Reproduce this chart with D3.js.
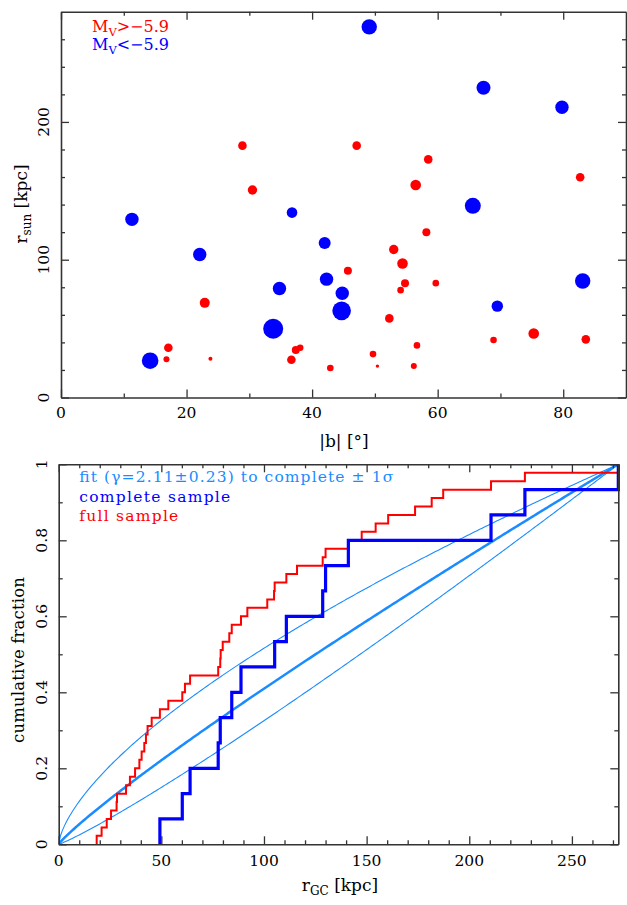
<!DOCTYPE html>
<html><head><meta charset="utf-8">
<script src="https://cdn.jsdelivr.net/npm/d3@7"></script>
<style>
body{margin:0;background:#fff}
svg{display:block}
text{font-family:"DejaVu Serif",serif;fill:#000}
</style>
</head><body>
<svg id="c" width="627" height="905"></svg>
<script>
// ---------------- DATA ----------------
// Top panel: |b| [deg], r_sun [kpc], marker size (relative)
const faintB    = [28.9,30.5,47.1,58.5,56.5,82.7,58.2,53.0,54.4,45.7,54.8,59.7,54.1,22.9,52.3,75.3,83.6,68.9,56.7,17.1,37.4,38.1,36.7,16.8,23.8,49.7,42.9,50.4,56.2];
const faintR    = [182.8,150.6,182.8,172.8,154.2,159.8,119.9,107.4,97.2,91.9,83.0,83.0,77.9,68.7,57.4,46.5,42.2,41.7,37.8,36.1,34.4,36.1,27.4,27.7,28.1,31.5,21.4,22.8,22.8];
const faintSize = [4.3,4.7,4.3,4.3,5.3,4.3,4.0,4.7,5.3,4.0,4.0,3.3,3.3,5.0,4.3,5.3,4.3,3.3,3.3,4.3,4.0,3.3,4.3,3.0,2.0,3.3,3.3,1.7,3.0];
const brightB    = [49.1,67.3,79.8,65.6,11.3,36.8,22.1,42.0,42.3,44.8,34.8,44.7,33.8,14.2,83.1,69.5];
const brightR    = [269.0,224.8,210.7,139.1,129.3,134.2,103.8,112.2,85.9,75.7,79.1,62.9,49.9,26.7,84.6,66.3];
const brightSize = [7.7,7.0,6.7,8.0,6.7,5.3,6.7,6.0,6.7,6.7,6.7,9.3,10.0,8.3,7.7,5.7];
const topXTicks = [0,20,40,60,80];
const topYTicks = [0,100,200];

// Bottom panel: sorted galactocentric distances r_GC [kpc]
const fullRgc = [18.5,20.9,23.4,25.5,28.2,28.4,32.8,34.7,37.2,39.3,40.4,41.7,42.5,43.3,45.3,49.3,53.4,60.2,61.5,64.0,77.7,78.7,78.9,79.9,83.1,84.3,88.8,91.9,101.6,104.9,105.2,110.9,116.1,128.6,130.0,141.1,147.6,154.4,160.5,173.6,181.7,187.3,210.6,227.1,272.6];
const completeRgc = [49.3,60.2,64.0,77.7,78.7,84.3,88.8,105.2,110.9,128.6,130.0,141.1,210.6,227.1,272.6];
const fitGamma = [2.11-0.23, 2.11, 2.11+0.23]; // fit and +-1 sigma
const botXTicks = [0,50,100,150,200,250];
const botYTicks = [0,0.2,0.4,0.6,0.8,1];
const botYLabels = ["0","0.2","0.4","0.6","0.8","1"];

// ---------------- DRAW ----------------
const svg = d3.select("#c");
const AX = "#333";

function frame(g, x, y, xMajor, xMinor, yMajor, yMinor, maj, min){
  const [x0,x1] = x.range(), [y0,y1] = y.range();
  const style = s => s.call(q=>q.selectAll("line").attr("stroke",AX).attr("stroke-width",1.3))
                      .call(q=>q.selectAll("path").attr("stroke",AX).attr("stroke-width",1.6))
                      .call(q=>q.selectAll("text").remove());
  const add = (axis, tr, vals, size, dom) => {
    const a = g.append("g").attr("transform",tr)
      .call(axis.tickValues(vals).tickSizeInner(-size).tickSizeOuter(0).tickFormat(""));
    style(a);
    if(!dom) a.select("path").remove();
  };
  add(d3.axisBottom(x), `translate(0,${y0})`, xMajor, maj, true);
  add(d3.axisBottom(x), `translate(0,${y0})`, xMinor, min, false);
  add(d3.axisTop(x), `translate(0,${y1})`, xMajor, maj, true);
  add(d3.axisTop(x), `translate(0,${y1})`, xMinor, min, false);
  add(d3.axisLeft(y), `translate(${x0},0)`, yMajor, maj, true);
  add(d3.axisLeft(y), `translate(${x0},0)`, yMinor, min, false);
  add(d3.axisRight(y), `translate(${x1},0)`, yMajor, maj, true);
  add(d3.axisRight(y), `translate(${x1},0)`, yMinor, min, false);
}

// ---- Top panel ----
const xT = d3.scaleLinear().domain([0,90]).range([61,626]);
const yT = d3.scaleLinear().domain([0,280]).range([397.5,11.7]);
const sz = d3.scaleLinear().domain([0,10]).range([0,10]);
const gT = svg.append("g");
frame(gT, xT, yT, topXTicks, d3.range(10,90,10).filter(v=>v%20), topYTicks, d3.range(20,280,20).filter(v=>v%100), 8, 4);

gT.append("g").selectAll("circle").data(d3.range(faintB.length)).join("circle")
  .attr("cx",i=>xT(faintB[i])).attr("cy",i=>yT(faintR[i])).attr("r",i=>sz(faintSize[i])).attr("fill","#ff0000");
gT.append("g").selectAll("circle").data(d3.range(brightB.length)).join("circle")
  .attr("cx",i=>xT(brightB[i])).attr("cy",i=>yT(brightR[i])).attr("r",i=>sz(brightSize[i])).attr("fill","#0000ff");

gT.selectAll(".xl").data(topXTicks).join("text").attr("class","xl")
  .attr("x",d=>xT(d)).attr("y",418).attr("text-anchor","middle").attr("font-size",15.5).text(d=>d);
gT.selectAll(".yl").data(topYTicks).join("text").attr("class","yl")
  .attr("transform",d=>`translate(49,${yT(d)}) rotate(-90)`).attr("text-anchor","middle").attr("font-size",15.5).text(d=>d);

// legend
function mv(g, x, y, sign, color){
  const t = g.append("text").attr("x",x).attr("y",y).attr("font-size",16).attr("fill",color).style("fill",color);
  t.append("tspan").text("M");
  t.append("tspan").attr("dy",4).attr("font-size",11.5).text("V");
  t.append("tspan").attr("dy",-4).text(sign+"\u22125.9");
}
mv(gT, 92, 32, ">", "#ff0000");
mv(gT, 92, 50, "<", "#0000ff");

// axis titles
gT.append("text").attr("x",344).attr("y",447).attr("text-anchor","middle").attr("font-size",17).text("|b|  [\u00b0]");
const ty = gT.append("text").attr("transform","translate(27,204) rotate(-90)").attr("text-anchor","middle").attr("font-size",17);
ty.append("tspan").text("r");
ty.append("tspan").attr("dy",4).attr("font-size",12).text("sun");
ty.append("tspan").attr("dy",-4).text(" [kpc]");

// ---- Bottom panel ----
const xB = d3.scaleLinear().domain([0,272.6]).range([58.7,618.3]);
const yB = d3.scaleLinear().domain([0,1]).range([844.3,464.3]);
const gB = svg.append("g");

svg.append("clipPath").attr("id","cb").append("rect")
  .attr("x",58.7).attr("y",464.3).attr("width",618.3-58.7).attr("height",844.3-464.3);

// fit curves F(<r) = (r/rmax)^(3-gamma)
const rmax = d3.max(fullRgc);
const rs = d3.range(0, 301).map(i => rmax*i/300);
const fitLine = g => d3.line().x(r=>xB(r)).y(r=>yB(Math.pow(r/rmax, 3-g)));
const fitG = gB.append("g").attr("clip-path","url(#cb)");

// step curves
function steps(arr){
  const n = arr.length;
  const pts = [[arr[0],0]].concat(arr.map((r,i)=>[r,(i+1)/n]));
  return d3.line().x(d=>xB(d[0])).y(d=>yB(d[1])).curve(d3.curveStepAfter)(pts);
}
gB.append("path").attr("d",steps(fullRgc)).attr("fill","none").attr("stroke","#ff0000").attr("stroke-width",2);
fitGamma.forEach((g,i)=>{
  fitG.append("path").datum(rs).attr("d",fitLine(g)).attr("fill","none")
    .attr("stroke","#1a8cff").attr("stroke-width", i===1?2.5:1.1);
});
gB.append("path").attr("d",steps(completeRgc)).attr("fill","none").attr("stroke","#0000ff").attr("stroke-width",3.2);

frame(gB, xB, yB, botXTicks, d3.range(10,280,10).filter(v=>v%50 && v<272), botYTicks, [0.1,0.3,0.5,0.7,0.9], 8, 4);

gB.selectAll(".xl").data(botXTicks).join("text").attr("class","xl")
  .attr("x",d=>xB(d)).attr("y",866).attr("text-anchor","middle").attr("font-size",15.5).text(d=>d);
gB.selectAll(".yl").data(botYTicks).join("text").attr("class","yl")
  .attr("transform",d=>`translate(47,${yB(d)}) rotate(-90)`).attr("text-anchor","middle").attr("font-size",15.5).text((d,i)=>botYLabels[i]);

// legend
gB.append("text").attr("x",79.3).attr("y",482).attr("font-size",15.5).style("fill","#1a8cff")
  .attr("textLength",314).text("fit (\u03b3=2.11\u00b10.23) to complete \u00b1 1\u03c3");
gB.append("text").attr("x",79.3).attr("y",501.5).attr("font-size",15.5).style("fill","#0000ff")
  .attr("textLength",151).text("complete sample");
gB.append("text").attr("x",79.3).attr("y",520.5).attr("font-size",15.5).style("fill","#ff0000")
  .attr("textLength",99).text("full sample");

const tr = gB.append("text").attr("x",340).attr("y",891).attr("text-anchor","middle").attr("font-size",17);
tr.append("tspan").text("r");
tr.append("tspan").attr("dy",4).attr("font-size",12).text("GC");
tr.append("tspan").attr("dy",-4).text(" [kpc]");
gB.append("text").attr("transform","translate(24,660) rotate(-90)").attr("text-anchor","middle").attr("font-size",16.5)
  .attr("textLength",166).text("cumulative fraction");
</script>
</body></html>
